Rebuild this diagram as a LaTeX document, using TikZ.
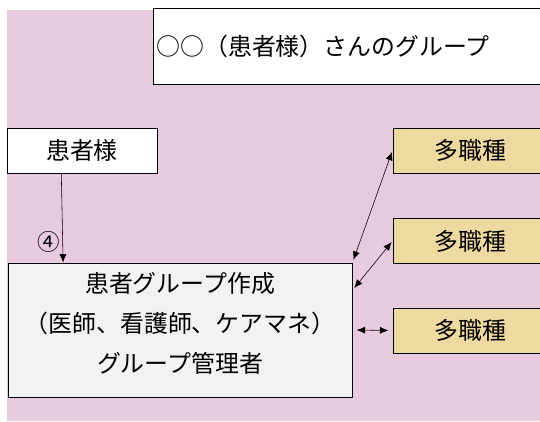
\documentclass[tikz,border=0pt]{standalone}
\usepackage{fontspec}
\setmainfont{Noto Sans CJK JP}
\usetikzlibrary{arrows.meta}
\definecolor{bgpink}{RGB}{232,202,222}
\definecolor{jobtan}{RGB}{238,217,160}
\definecolor{grpgrey}{RGB}{241,242,242}
\tikzset{
  box/.style={draw, line width=0.7pt, rectangle, inner sep=0pt},
  jobbox/.style={box, fill=jobtan, minimum width=3.875cm, minimum height=1.125cm},
  tip/.style={{Latex[length=6pt,width=5pt]}-{Latex[length=6pt,width=5pt]}},
}
\begin{document}
\begin{tikzpicture}[font=\fontsize{17}{20}\selectfont]
            \useasboundingbox (0, 0) rectangle (13.5, 10.525);
            \fill[bgpink] (0.175, 0) rectangle (13.5, 10.275);

            \node[box, fill=white, minimum width=9.875cm, minimum height=1.9cm, text width=9.7cm, align=left] (title) at (8.7625, 9.375) { ○○（患者様）さんのグループ };
            \node[box, fill=white, minimum width=3.75cm, minimum height=1.125cm] (patient) at (2.05, 6.7625) { 患者様 };
            \node[box, fill=grpgrey, minimum width=8.6cm, minimum height=3.35cm, align=center, text depth=0.4cm, font=\fontsize{17}{28.45}\selectfont] (group) at (4.5, 2.275) { 患者グループ作成\\ （医師、看護師、ケアマネ）\\ グループ管理者 };
            \node[jobbox] (job1) at (11.7625, 6.7625) { 多職種 };
            \node[jobbox] (job2) at (11.7625, 4.5) { 多職種 };
            \node[jobbox] (job3) at (11.7625, 2.2625) { 多職種 };

            \draw[-{Latex[length=6pt,width=5pt]}] (patient.228) -- node[pos=0.77, left, inner sep=2pt] { \fontsize{16}{16}\selectfont ④ } (group.150);
            \draw[tip, shorten >=1pt, shorten <=2pt] (group.north east) -- (job1.west);
            \draw[tip, shorten >=1pt, shorten <=2pt] (group.13) -- (job2.west);
            \draw[tip, shorten >=3pt, shorten <=3pt] (group.east) -- (job3.west);
        \end{tikzpicture}
\end{document}
